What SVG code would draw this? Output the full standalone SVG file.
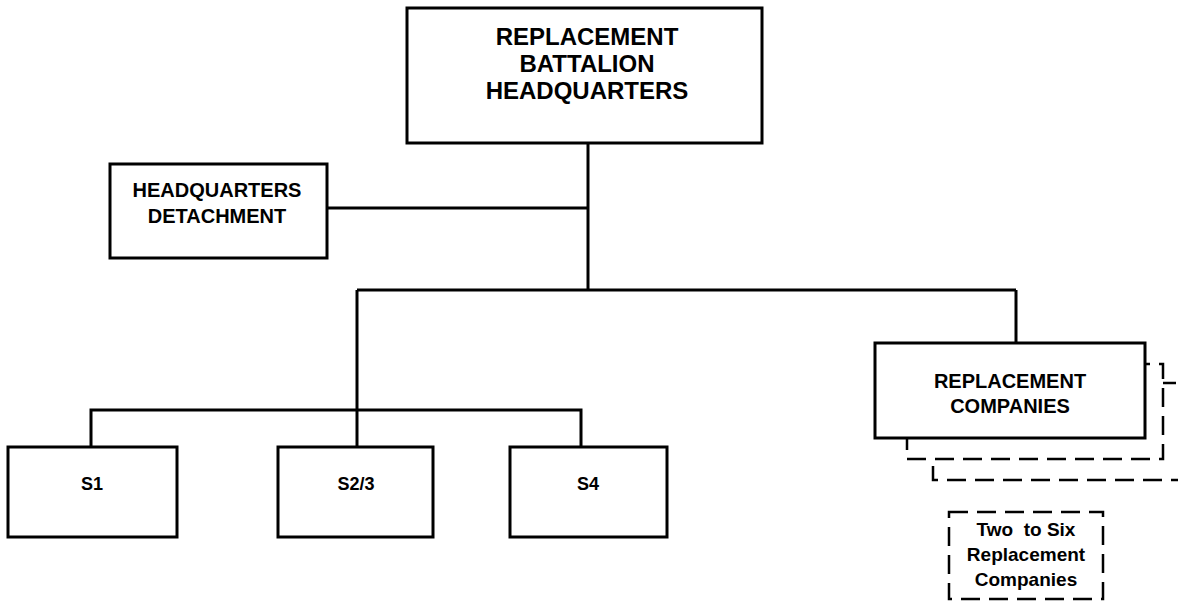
<svg xmlns="http://www.w3.org/2000/svg" width="1178" height="603" viewBox="0 0 1178 603">
<style>
.box{fill:#fff;stroke:#000;stroke-width:3}
.dash{fill:#fff;stroke:#000;stroke-width:2.5;stroke-dasharray:19 9}
.ln{stroke:#000;stroke-width:3;fill:none}
text{font-family:"Liberation Sans",Arial,sans-serif;font-weight:bold;fill:#000;text-anchor:middle}
.t1{font-size:24px}
.t2{font-size:20px}
.t3{font-size:18px}
.t4{font-size:19px}
</style>
<rect width="1178" height="603" fill="#fff"/>
<g id="connectors">
<line class="ln" x1="588" y1="143" x2="588" y2="290"/>
<line class="ln" x1="327" y1="208" x2="588" y2="208"/>
<line class="ln" x1="357" y1="290" x2="1016" y2="290"/>
<line class="ln" x1="357" y1="290" x2="357" y2="447"/>
<line class="ln" x1="1016" y1="290" x2="1016" y2="343"/>
<polyline class="ln" points="91,447 91,410 581,410 581,447"/>
</g>
<g id="bn-hq">
<rect class="box" x="407" y="8" width="355" height="135"/>
<text class="t1" x="587" y="45">REPLACEMENT</text>
<text class="t1" x="587" y="72">BATTALION</text>
<text class="t1" x="587" y="99">HEADQUARTERS</text>
</g>
<g id="hq-det">
<rect class="box" x="110" y="164" width="217" height="94"/>
<text class="t2" x="217" y="197">HEADQUARTERS</text>
<text class="t2" x="217" y="223">DETACHMENT</text>
</g>
<g id="s1">
<rect class="box" x="8" y="447" width="169" height="90"/>
<text class="t3" x="92" y="490">S1</text>
</g>
<g id="s23">
<rect class="box" x="278" y="447" width="155" height="90"/>
<text class="t3" x="356" y="490">S2/3</text>
</g>
<g id="s4">
<rect class="box" x="510" y="447" width="157" height="90"/>
<text class="t3" x="588" y="490">S4</text>
</g>
<g id="rep-co">
<rect class="dash" x="933" y="383" width="262" height="97"/>
<rect class="dash" x="907" y="364" width="256" height="95"/>
<rect class="box" x="875" y="343" width="270" height="95"/>
<text class="t2" x="1010" y="388">REPLACEMENT</text>
<text class="t2" x="1010" y="413">COMPANIES</text>
</g>
<g id="note">
<rect class="dash" x="949" y="512" width="154" height="87"/>
<text class="t4" x="1026" y="536" xml:space="preserve">Two  to Six</text>
<text class="t4" x="1026" y="561">Replacement</text>
<text class="t4" x="1026" y="586">Companies</text>
</g>
</svg>
